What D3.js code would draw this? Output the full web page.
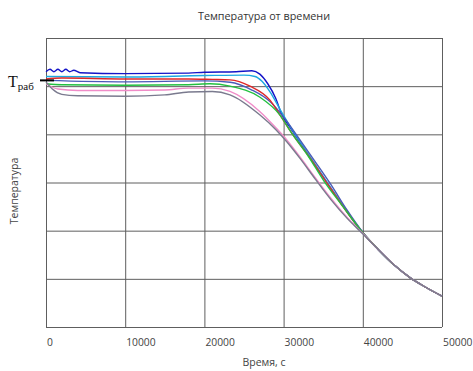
<!DOCTYPE html>
<html>
<head>
<meta charset="utf-8">
<script src="https://cdn.jsdelivr.net/npm/d3@7"></script>
<style>
  body { margin: 0; background: #fff; }
  .grid line { stroke: #5e5e5e; stroke-width: 1; }
  .grid path { display: none; }
  .xaxis text { font-family: "Open Sans", sans-serif; font-size: 10.3px; fill: #444; }
  .curve { fill: none; stroke-width: 1.4; stroke-linejoin: round; }
</style>
</head>
<body>
<div class="chart"></div>
<script>
(function () {

    var X_TICKS = [0, 10000, 20000, 30000, 40000, 50000];
    var Y_GRID = [0, 100, 200, 300, 400, 500, 600];

    // shared cooling tail, all curves run together here
    var tail = [[42000, 160], [44000, 128], [46000, 102], [48000, 82], [50000, 64]];

    // [time, temperature]
    var grayLine = [[0, 509], [800, 494], [2000, 483], [4000, 480], [10000, 479], [15000, 482], [18000, 488],
        [21000, 489], [23232, 482], [27020, 440], [29000, 410], [30430, 384], [32070, 350], [34000, 307],
        [36000, 264], [38000, 226], [40025, 193]];
    var pinkLine = [[0, 505], [1500, 494], [4000, 491], [10000, 491], [15000, 492], [18000, 496], [21000, 496],
        [23232, 489], [27020, 447], [29000, 414], [30430, 388], [32070, 353], [34000, 310], [36000, 267],
        [38000, 228], [40025, 194]];
    var greenLine = [[0, 505], [2000, 503], [10000, 502], [18000, 503], [20700, 505], [23232, 500], [27020, 477],
        [29545, 440], [31000, 403], [33100, 355], [35100, 303], [37500, 250], [40025, 195]];
    var navyLine = [[0, 512], [10000, 509], [20000, 511], [23232, 508], [26000, 492], [28282, 468], [30176, 432],
        [32000, 390], [34000, 343], [36000, 295], [38000, 243], [40025, 196]];
    var redLine = [[0, 515], [2000, 517], [10000, 515], [18000, 515], [21000, 514], [23232, 513], [25757, 500],
        [28282, 471], [29545, 440], [31187, 399], [33200, 354], [35226, 305], [37500, 250], [40025, 195]];
    var cyanLine = [[0, 520], [10000, 519], [20000, 522], [25000, 523], [26389, 520], [27272, 510], [28282, 488],
        [29545, 452], [31000, 412], [33000, 362], [35226, 307], [37500, 252], [40025, 196]];
    var blueLine = [[0, 530], [500, 535], [1000, 530], [1500, 535], [2000, 530], [2500, 535], [3000, 530],
        [3500, 533], [4300, 528], [10000, 526], [18000, 527], [20000, 529], [24000, 530], [26000, 532],
        [27000, 525], [28000, 505], [29000, 475], [29800, 440], [31000, 410], [33000, 360], [35226, 306],
        [37500, 251], [40025, 195]];

    // drawn in this order, gray ends on top in the common tail
    var SERIES = [
        {name: "blue", color: "#1414c8", values: blueLine},
        {name: "cyan", color: "#1ca8e0", values: cyanLine},
        {name: "navy", color: "#4a5ab8", values: navyLine},
        {name: "red", color: "#e02828", values: redLine},
        {name: "green", color: "#22c040", values: greenLine},
        {name: "pink", color: "#f08cc8", values: pinkLine},
        {name: "gray", color: "#7a7a8e", values: grayLine}
    ];

    var T_WORK = 512;

    var margin = {top: 38, right: 31, bottom: 44, left: 46},
        width = 473 - margin.left - margin.right,
        height = 371 - margin.top - margin.bottom;

    var svg = d3.select(".chart").append("svg")
        .attr("width", 473)
        .attr("height", 371);

    var g = svg.append("g")
        .attr("transform", "translate(" + margin.left + "," + margin.top + ")");

    var x = d3.scaleLinear().domain([0, 50000]).range([0, width]);
    var y = d3.scaleLinear().domain([0, 600]).range([height, 0]);

    // grid
    g.append("g")
        .attr("class", "grid xaxis")
        .attr("transform", "translate(0," + height + ")")
        .call(d3.axisBottom(x).tickValues(X_TICKS).tickSize(-height).tickFormat(d3.format("d")))
        .selectAll("text")
          .style("text-anchor", "start")
          .attr("x", 0.5)
          .attr("y", 12)
          .attr("dy", "0.71em");

    g.append("g")
        .attr("class", "grid")
        .call(d3.axisLeft(y).tickValues(Y_GRID).tickSize(-width).tickFormat(""));

    var line = d3.line()
        .x(function (d) { return x(d[0]); })
        .y(function (d) { return y(d[1]); })
        .curve(d3.curveMonotoneX);

    g.selectAll(".curve")
        .data(SERIES)
        .enter().append("path")
        .attr("class", "curve")
        .attr("d", function (d) { return line(d.values.concat(tail)); })
        .style("stroke", function (d) { return d.color; });

    // T_раб marker
    g.append("line")
        .attr("x1", -6).attr("x2", 8)
        .attr("y1", y(T_WORK)).attr("y2", y(T_WORK))
        .style("stroke", "#000").style("stroke-width", 2);

    var tw = svg.append("text")
        .attr("x", 8)
        .attr("y", margin.top + y(T_WORK) + 7)
        .style("font-family", "'Liberation Serif', serif")
        .style("font-size", "16px")
        .style("fill", "#111");
    tw.append("tspan").text("T");
    tw.append("tspan").attr("dy", 3).style("font-size", "11px").text("раб");

    // titles
    svg.append("text")
        .attr("x", 264).attr("y", 20)
        .style("text-anchor", "middle")
        .style("font-family", "'Open Sans', sans-serif")
        .style("font-size", "10.8px")
        .style("fill", "#333")
        .text("Температура от времени");

    svg.append("text")
        .attr("x", 264).attr("y", 366)
        .style("text-anchor", "middle")
        .style("font-family", "'Open Sans', sans-serif")
        .style("font-size", "10.5px")
        .style("fill", "#444")
        .text("Время, с");

    svg.append("text")
        .attr("transform", "translate(18,191) rotate(-90)")
        .style("text-anchor", "middle")
        .style("font-family", "'Open Sans', sans-serif")
        .style("font-size", "10.5px")
        .style("fill", "#444")
        .text("Температура");
})();
</script>
</body>
</html>
